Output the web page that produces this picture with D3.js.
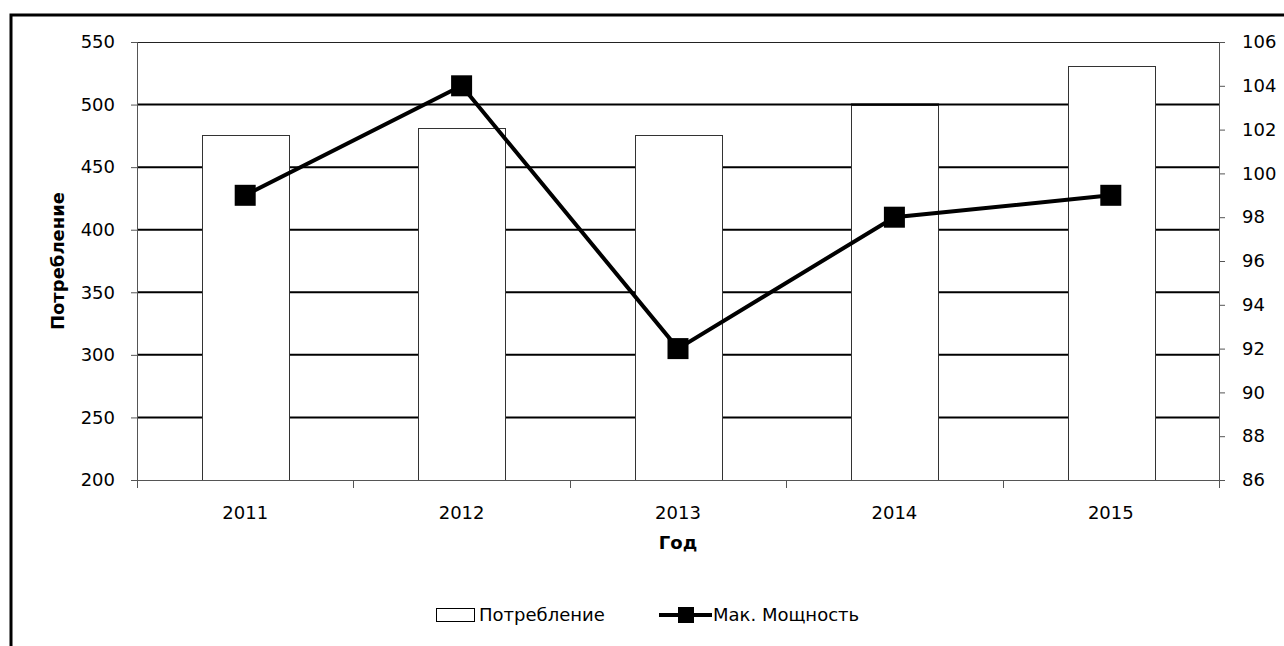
<!DOCTYPE html>
<html>
<head>
<meta charset="utf-8">
<script src="https://cdn.jsdelivr.net/npm/d3@7"></script>
<style>
  body { margin: 0; background: #fff; }
  svg text { font-family: "DejaVu Sans", sans-serif; fill: #000; }
</style>
</head>
<body>
<div id="chart"></div>
<script>
// data
var years = ["2011", "2012", "2013", "2014", "2015"];
var consumption = [476, 481, 476, 500, 531];
var maxPower = [99, 104, 92, 98, 99];
var leftTicks = [200, 250, 300, 350, 400, 450, 500, 550];
var rightTicks = [86, 88, 90, 92, 94, 96, 98, 100, 102, 104, 106];

var W = 1284, H = 646;
var margin = {top: 42, right: 65, bottom: 166, left: 137};
var width = W - margin.left - margin.right;
var height = H - margin.top - margin.bottom;

var svg = d3.select("#chart").append("svg")
    .attr("width", W)
    .attr("height", H);

// outer frame (only top and left edges fall in view)
svg.append("rect")
    .attr("x", 11).attr("y", 15)
    .attr("width", W + 20).attr("height", H + 20)
    .attr("fill", "none")
    .attr("stroke", "#000")
    .attr("stroke-width", 3);

var g = svg.append("g")
    .attr("transform", "translate(" + margin.left + "," + margin.top + ")");

var x = d3.scaleBand()
    .domain(years)
    .range([0, width])
    .paddingInner(0.6)
    .paddingOuter(0.3);

var yL = d3.scaleLinear().domain([200, 550]).range([height, 0]);
var yR = d3.scaleLinear().domain([86, 106]).range([height, 0]);

// gridlines
g.append("g")
    .selectAll("line")
    .data(leftTicks.filter(function(d) { return d > 200 && d < 550; }))
    .join("line")
    .attr("x1", 0).attr("x2", width)
    .attr("y1", function(d) { return yL(d); })
    .attr("y2", function(d) { return yL(d); })
    .attr("stroke", "#000")
    .attr("stroke-width", 2);

g.append("line")
    .attr("x1", 0).attr("x2", width)
    .attr("y1", yL(550) + 0.5).attr("y2", yL(550) + 0.5)
    .attr("stroke", "#222")
    .attr("stroke-width", 1);

// bars
g.append("g")
    .selectAll("rect")
    .data(consumption)
    .join("rect")
    .attr("x", function(d, i) { return Math.round(x(years[i])) + 0.5; })
    .attr("y", function(d) { return Math.round(yL(d)) + 0.5; })
    .attr("width", Math.round(x.bandwidth()))
    .attr("height", function(d) { return Math.round(height - yL(d)); })
    .attr("fill", "#fff")
    .attr("stroke", "#333")
    .attr("stroke-width", 1);

// where a bar top falls on a gridline, the gridline stays visible over it
g.append("g")
    .selectAll("line")
    .data(consumption.map(function(d, i) { return {v: d, year: years[i]}; })
        .filter(function(d) { return leftTicks.indexOf(d.v) >= 0; }))
    .join("line")
    .attr("x1", function(d) { return Math.round(x(d.year)); })
    .attr("x2", function(d) { return Math.round(x(d.year)) + Math.round(x.bandwidth()) + 1; })
    .attr("y1", function(d) { return yL(d.v); })
    .attr("y2", function(d) { return yL(d.v); })
    .attr("stroke", "#000")
    .attr("stroke-width", 2);

// axes
var leftAxis = d3.axisLeft(yL).tickValues(leftTicks).tickSize(6).tickPadding(16);
var rightAxis = d3.axisRight(yR).tickValues(rightTicks).tickSize(6).tickPadding(17);

var gl = g.append("g").call(leftAxis);
var gr = g.append("g").attr("transform", "translate(" + width + ",0)").call(rightAxis);

[gl, gr].forEach(function(a) {
    a.select(".domain").remove();
    a.selectAll(".tick line").attr("stroke", "#555");
    a.selectAll(".tick text").style("font-size", "18px").attr("fill", "#000");
});

g.append("line")
    .attr("x1", 0.5).attr("x2", 0.5)
    .attr("y1", 0).attr("y2", height + 8)
    .attr("stroke", "#555");
g.append("line")
    .attr("x1", width + 0.5).attr("x2", width + 0.5)
    .attr("y1", 0).attr("y2", height + 8)
    .attr("stroke", "#555");

// x axis: baseline, category boundary ticks, labels
g.append("line")
    .attr("x1", 0).attr("x2", width)
    .attr("y1", height + 0.5).attr("y2", height + 0.5)
    .attr("stroke", "#555");

g.append("g")
    .selectAll("line")
    .data(years.slice(1))
    .join("line")
    .attr("x1", function(d) { return Math.round(x(d) - x.bandwidth() * 0.75) + 0.5; })
    .attr("x2", function(d) { return Math.round(x(d) - x.bandwidth() * 0.75) + 0.5; })
    .attr("y1", height).attr("y2", height + 8)
    .attr("stroke", "#555");

g.append("g")
    .selectAll("text")
    .data(years)
    .join("text")
    .attr("x", function(d) { return x(d) + x.bandwidth() / 2; })
    .attr("y", height + 39)
    .attr("text-anchor", "middle")
    .style("font-size", "18px")
    .text(function(d) { return d; });

// line series
var line = d3.line()
    .x(function(d, i) { return x(years[i]) + x.bandwidth() / 2; })
    .y(function(d) { return yR(d); });

g.append("path")
    .datum(maxPower)
    .attr("d", line)
    .attr("fill", "none")
    .attr("stroke", "#000")
    .attr("stroke-width", 4);

g.append("g")
    .selectAll("rect")
    .data(maxPower)
    .join("rect")
    .attr("x", function(d, i) { return x(years[i]) + x.bandwidth() / 2 - 10.5; })
    .attr("y", function(d) { return yR(d) - 10.5; })
    .attr("width", 21).attr("height", 21)
    .attr("fill", "#000");

// axis titles
svg.append("text")
    .attr("transform", "translate(64," + (margin.top + yL(375)) + ") rotate(-90)")
    .attr("text-anchor", "middle")
    .style("font-size", "18px")
    .style("font-weight", "bold")
    .text("Потребление");

svg.append("text")
    .attr("x", margin.left + width / 2)
    .attr("y", 549)
    .attr("text-anchor", "middle")
    .style("font-size", "18px")
    .style("font-weight", "bold")
    .text("Год");

// legend
var lg = svg.append("g");
lg.append("rect")
    .attr("x", 436.5).attr("y", 608.5)
    .attr("width", 38).attr("height", 13)
    .attr("fill", "#fff").attr("stroke", "#000");
lg.append("text")
    .attr("x", 479).attr("y", 621)
    .style("font-size", "18px")
    .text("Потребление");
lg.append("line")
    .attr("x1", 659).attr("x2", 712)
    .attr("y1", 615).attr("y2", 615)
    .attr("stroke", "#000").attr("stroke-width", 4);
lg.append("rect")
    .attr("x", 678).attr("y", 607)
    .attr("width", 16).attr("height", 16)
    .attr("fill", "#000");
lg.append("text")
    .attr("x", 713).attr("y", 621)
    .style("font-size", "18px")
    .text("Мак. Мощность");
</script>
</body>
</html>
